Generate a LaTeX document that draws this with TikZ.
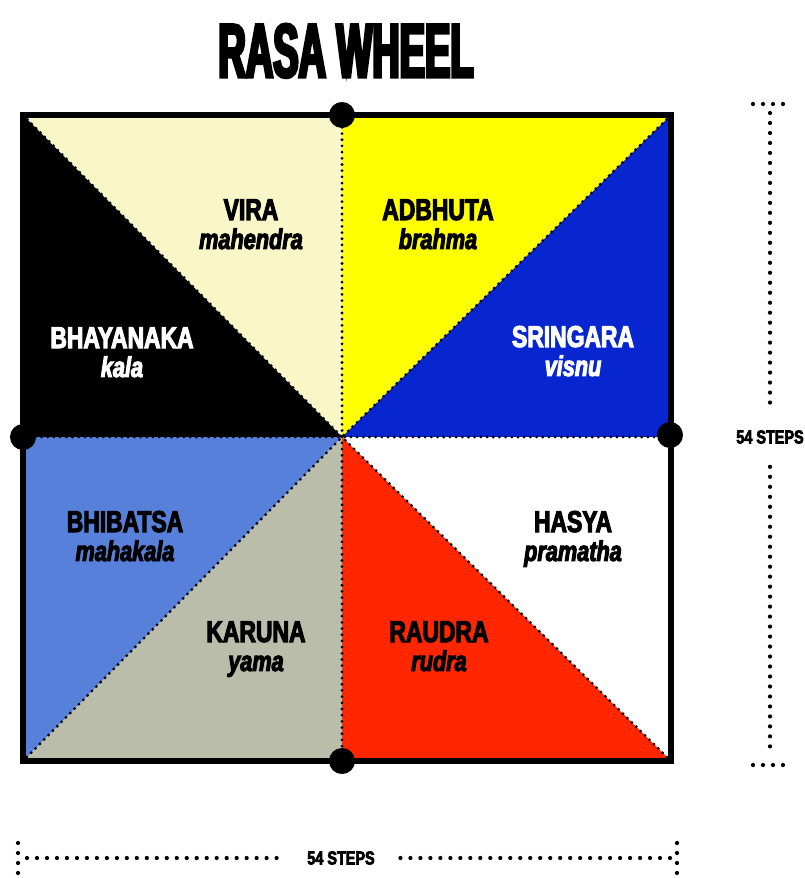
\documentclass[tikz,border=0pt]{standalone}
\usepackage{fontspec}
\setmainfont{Liberation Sans}
\newfontfamily\titlefont{Liberation Sans}[FakeStretch=0.5,FakeBold=4]
\newfontfamily\rasafont{Liberation Sans}[FakeStretch=0.76,FakeBold=3.5]
\definecolor{viracol}{RGB}{249,247,199}
\definecolor{adbhutacol}{RGB}{255,255,0}
\definecolor{sringaracol}{RGB}{8,38,208}
\definecolor{raudracol}{RGB}{255,38,0}
\definecolor{karunacol}{RGB}{186,189,170}
\definecolor{bhibatsacol}{RGB}{86,128,218}
\begin{document}
\begin{tikzpicture}[x=0.025cm,y=-0.025cm,
    rasa/.style={font=\rasafont\bfseries\fontsize{21.4}{22}\selectfont,inner sep=0pt,anchor=base},
    deva/.style={font=\rasafont\bfseries\itshape\fontsize{20.3}{22}\selectfont,inner sep=0pt,anchor=base},
    griddots/.style={line width=2.2pt,dash pattern=on 0pt off 4.4pt,line cap=round},
    dimdots/.style={line width=3pt,dash pattern=on 0pt off 7.1pt,line cap=round},
    dot/.style={circle,fill=black,inner sep=0pt,minimum size=18.5pt},
    stepslabel/.style={font=\rasafont\bfseries\fontsize{13.5}{14}\selectfont,inner sep=0pt}]
  \useasboundingbox (0,0) rectangle (804,878);
  % square
  \coordinate (tl) at (23,115);
  \coordinate (tr) at (671,115);
  \coordinate (br) at (671,761);
  \coordinate (bl) at (23,761);
  \coordinate (c) at (342,437);
  \coordinate (tm) at (342,115);
  \coordinate (bm) at (342,761);
  \coordinate (lm) at (23,437);
  \coordinate (rm) at (671,437);
  \fill[viracol] (tl) -- (tm) -- (c) -- cycle;
  \fill[black] (tl) -- (lm) -- (c) -- cycle;
  \fill[adbhutacol] (tm) -- (tr) -- (c) -- cycle;
  \fill[sringaracol] (tr) -- (rm) -- (c) -- cycle;
  \fill[white] (rm) -- (br) -- (c) -- cycle;
  \fill[raudracol] (br) -- (bm) -- (c) -- cycle;
  \fill[karunacol] (bm) -- (bl) -- (c) -- cycle;
  \fill[bhibatsacol] (bl) -- (lm) -- (c) -- cycle;
  \draw[griddots] (tm) -- (bm);
  \draw[griddots] (lm) -- (rm);
  \draw[griddots] (tl) -- (c) -- (br);
  \draw[griddots] (tr) -- (c) -- (bl);
  \draw[line width=4.3pt] (tl) rectangle (br);
  \node[dot] (topdot) at (tm) {};
  \node[dot] (leftdot) at (lm) {};
  \node[dot] (rightdot) at (670,435) {};
  \node[dot] (bottomdot) at (bm) {};
  % labels
  \node[font=\titlefont\bfseries\fontsize{54}{56}\selectfont,inner sep=0pt,anchor=base] (title) at (346,77) {RASA WHEEL};
  \node[rasa] (vira) at (251,220) {VIRA};
  \node[deva] (mahendra) at ([yshift=-20.6pt]vira.base) {mahendra};
  \node[rasa,white] (bhayanaka) at (122,348) {BHAYANAKA};
  \node[deva,white] (kala) at ([yshift=-20.6pt]bhayanaka.base) {kala};
  \node[rasa] (adbhuta) at (438,220) {ADBHUTA};
  \node[deva] (brahma) at ([yshift=-20.6pt]adbhuta.base) {brahma};
  \node[rasa,white] (sringara) at (573,347) {SRINGARA};
  \node[deva,white] (visnu) at ([yshift=-20.6pt]sringara.base) {visnu};
  \node[rasa] (bhibatsa) at (125,532) {BHIBATSA};
  \node[deva] (mahakala) at ([yshift=-20.6pt]bhibatsa.base) {mahakala};
  \node[rasa] (karuna) at (256,642) {KARUNA};
  \node[deva] (yama) at ([yshift=-20.6pt]karuna.base) {yama};
  \node[rasa] (hasya) at (573,532) {HASYA};
  \node[deva] (pramatha) at ([yshift=-20.6pt]hasya.base) {pramatha};
  \node[rasa] (raudra) at (439,642) {RAUDRA};
  \node[deva] (rudra) at ([yshift=-20.6pt]raudra.base) {rudra};
  % measures
  \node[stepslabel,minimum height=42pt] (rsteps) at (770,437) {54 STEPS};
  \coordinate (rtop) at (770,113);
  \coordinate (rbot) at (770,755);
  \draw[dimdots] (rtop) -- (rsteps.north);
  \draw[dimdots] (rsteps.south) -- (rbot);
  \draw[dimdots] (753,104) -- (787,104);
  \draw[dimdots] (753,765) -- (787,765);
  \node[stepslabel,minimum width=78pt] (bsteps) at (341,858) {54 STEPS};
  \coordinate (bleft) at (27,858);
  \coordinate (bright) at (670,858);
  \draw[dimdots] (bleft) -- (bsteps.west);
  \draw[dimdots] (bright) -- (bsteps.east);
  \draw[dimdots] (18,843) -- (18,876);
  \draw[dimdots] (677,843) -- (677,876);
\end{tikzpicture}
\end{document}
